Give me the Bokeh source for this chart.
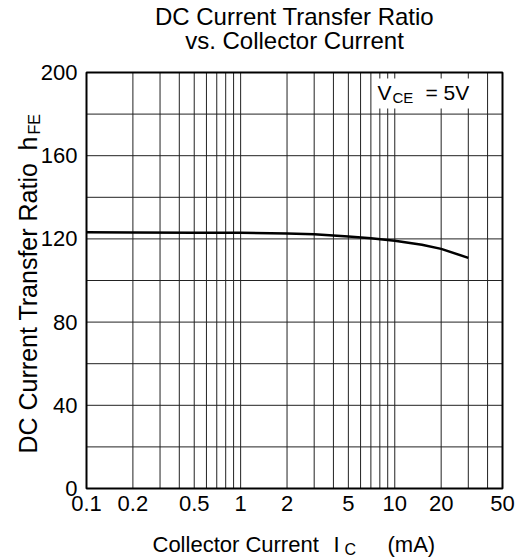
import math
from bokeh.plotting import figure
from bokeh.models import (Range1d, FixedTicker, CustomJSTickFormatter, Label,
                          BoxAnnotation)
from bokeh.embed import file_html
from bokeh.resources import INLINE

# ---- data ----
ic_ma = [0.1, 0.2, 0.5, 1, 2, 3, 5, 7, 10, 15, 20, 30]
hfe = [123.2, 123.1, 123.0, 122.9, 122.6, 122.2, 121.2, 120.3, 119.1, 117.2, 115.2, 110.9]

x_limits = [0.1, 50]
y_limits = [0, 200]
x_tick_values = [0.1, 0.2, 0.5, 1, 2, 5, 10, 20, 50]
x_grid_values = [0.2, 0.3, 0.4, 0.5, 0.6, 0.7, 0.8, 0.9,
                 1, 2, 3, 4, 5, 6, 7, 8, 9, 10, 20, 30, 40]
y_tick_values = [0, 40, 80, 120, 160, 200]
y_grid_values = [20, 40, 60, 80, 100, 120, 140, 160, 180]

title_lines = ["DC Current Transfer Ratio", "vs. Collector Current"]
x_label_parts = ["Collector Current", "I", "C", "(mA)"]
y_label_parts = ["DC Current Transfer Ratio", "h", "FE"]
vce_parts = ["V", "CE", "= 5V"]

FONT = "Liberation Sans"
W, H = 528, 558
FL, FR, FT, FB = 86, 502, 72, 488   # plot box edges in canvas pixels

# ranges chosen so that the plot box sits at FL..FR / FT..FB of the canvas
lx0, lx1 = math.log10(x_limits[0]), math.log10(x_limits[1])
px_dec = (FR - FL) / (lx1 - lx0)
x_start = 10 ** (lx0 - FL / px_dec)
x_end = 10 ** (lx1 + (W - FR) / px_dec)
px_unit = (FB - FT) / (y_limits[1] - y_limits[0])
y_start = y_limits[0] - (H - FB) / px_unit
y_end = y_limits[1] + FT / px_unit

p = figure(width=W, height=H, x_axis_type="log",
           x_range=Range1d(x_start, x_end), y_range=Range1d(y_start, y_end),
           output_backend="svg", toolbar_location=None, title=None,
           min_border=0, min_border_left=0, min_border_right=0,
           min_border_top=0, min_border_bottom=0)
p.background_fill_color = "white"
p.border_fill_color = "white"
p.outline_line_color = None
p.xgrid.visible = False
p.ygrid.visible = False

# grid lines inside the plot box
p.segment(x0=x_grid_values, y0=[y_limits[0]] * len(x_grid_values),
          x1=x_grid_values, y1=[y_limits[1]] * len(x_grid_values),
          line_color="#222222", line_width=1)
p.segment(x0=[x_limits[0]] * len(y_grid_values), y0=y_grid_values,
          x1=[x_limits[1]] * len(y_grid_values), y1=y_grid_values,
          line_color="#222222", line_width=1)

# axes pinned to the plot box edges
p.xaxis.fixed_location = y_limits[0]
p.yaxis.fixed_location = x_limits[0]
p.xaxis.bounds = tuple(x_limits)
p.yaxis.bounds = tuple(y_limits)
p.xaxis.ticker = FixedTicker(ticks=x_tick_values)
p.xaxis.formatter = CustomJSTickFormatter(code="return tick.toString();")
p.yaxis.ticker = FixedTicker(ticks=y_tick_values)
for ax in (p.xaxis, p.yaxis):
    ax.axis_line_color = None
    ax.major_tick_line_color = None
    ax.minor_tick_line_color = None
    ax.major_tick_out = 0
    ax.major_tick_in = 0
    ax.major_label_text_font = FONT
    ax.major_label_text_font_size = "22px"
    ax.major_label_text_color = "black"
p.xaxis.major_label_standoff = 7
p.yaxis.major_label_standoff = 9

# curve
p.line(ic_ma, hfe, line_color="black", line_width=2.5)

# plot box outline
p.quad(left=[x_limits[0]], right=[x_limits[1]], bottom=[y_limits[0]], top=[y_limits[1]],
       fill_color=None, line_color="black", line_width=2)

BASE_SHIFT = 0.29   # bokeh places "alphabetic" text a bit low; compensate


def lab(text, X, Y, size, align="left", angle=0.0):
    """Place text at canvas pixel X and glyph baseline Y (from the top)."""
    s = float(size.replace("px", ""))
    if angle == 0.0:
        Y = Y - BASE_SHIFT * s
    else:
        X = X - BASE_SHIFT * s
    p.add_layout(Label(x=X, y=H - Y, x_units="screen", y_units="screen",
                       text=text, text_font=FONT, text_font_size=size,
                       text_color="black", text_align=align,
                       text_baseline="alphabetic", angle=angle))


# title
lab(title_lines[0], 294, 23, "24px", "center")
lab(title_lines[1], 294, 47, "24px", "center")

# x axis label
lab(x_label_parts[0], 152, 550, "22px")
lab(x_label_parts[1], 333, 550, "22px")
lab(x_label_parts[2], 344, 554, "16px")
lab(x_label_parts[3], 387, 550, "22px")

# y axis label (rotated)
lab(y_label_parts[0], 35, 453, "25px", "left", math.pi / 2)
lab(y_label_parts[1], 35, 150, "25px", "left", math.pi / 2)
lab(y_label_parts[2], 39, 134, "16px", "left", math.pi / 2)

# VCE annotation on a white patch
p.add_layout(BoxAnnotation(left=372, right=482, top=H - 78, bottom=H - 108,
                           left_units="screen", right_units="screen",
                           top_units="screen", bottom_units="screen",
                           fill_color="white", fill_alpha=1.0, line_color=None))
lab(vce_parts[0], 377, 98, "21px")
lab(vce_parts[1], 392, 101, "15px")
lab(vce_parts[2], 425, 98, "21px")

open("out.html", "w").write(file_html(p, INLINE))
